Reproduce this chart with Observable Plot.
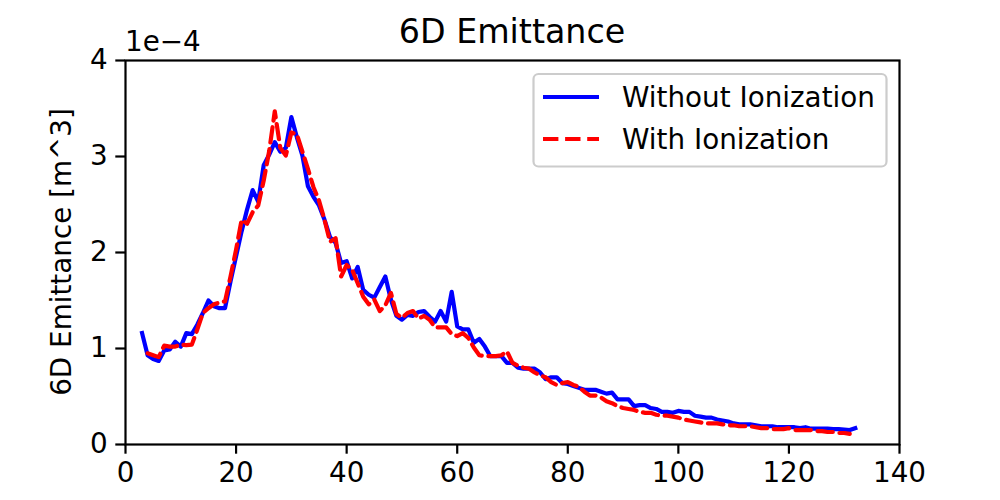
<!DOCTYPE html>
<html>
<head>
<meta charset="utf-8">
<script src="https://cdn.jsdelivr.net/npm/d3@7"></script>
<script src="https://cdn.jsdelivr.net/npm/@observablehq/plot@0.6"></script>
<style>
  html, body { margin: 0; padding: 0; background: #fff; }
  #chart { position: relative; width: 1000px; height: 500px; }
</style>
</head>
<body>
<div id="chart"></div>
<script>
// Data (emittance in units of 1e-4 m^3)
const stepsWithout = d3.range(3, 133);
const withoutIonization = [
  1.16,0.93,0.89,0.87,0.98,0.99,1.07,1.02,1.16,1.15,
  1.25,1.37,1.50,1.44,1.42,1.42,1.70,1.96,2.22,2.45,
  2.65,2.53,2.91,3.02,3.15,3.05,3.09,3.41,3.20,3.01,
  2.69,2.58,2.49,2.34,2.16,2.10,1.89,1.91,1.73,1.85,
  1.61,1.56,1.53,1.64,1.75,1.51,1.34,1.30,1.35,1.34,
  1.38,1.39,1.33,1.28,1.39,1.28,1.59,1.23,1.20,1.20,
  1.06,1.10,1.02,0.92,0.92,0.92,0.85,0.85,0.80,0.79,
  0.79,0.79,0.75,0.68,0.70,0.70,0.64,0.63,0.61,0.59,
  0.57,0.57,0.57,0.55,0.53,0.54,0.47,0.47,0.47,0.40,
  0.41,0.41,0.38,0.37,0.34,0.34,0.33,0.35,0.34,0.34,
  0.30,0.29,0.28,0.28,0.26,0.25,0.24,0.22,0.21,0.21,
  0.21,0.20,0.19,0.19,0.19,0.18,0.18,0.18,0.18,0.17,
  0.18,0.165,0.165,0.165,0.165,0.16,0.16,0.155,0.15,0.17
];
const stepsWith = d3.range(4, 132);
const withIonization = [
  0.95,0.93,0.91,1.03,1.02,1.02,1.04,1.035,1.04,1.20,
  1.37,1.42,1.46,1.48,1.49,1.75,2.03,2.34,2.30,2.42,
  2.49,2.75,3.06,3.47,3.09,3.01,3.25,3.23,3.05,2.87,
  2.68,2.54,2.34,2.11,2.15,1.75,1.87,1.82,1.68,1.54,
  1.46,1.51,1.39,1.45,1.58,1.36,1.32,1.37,1.39,1.31,
  1.34,1.30,1.22,1.22,1.22,1.15,1.13,1.16,1.11,1.01,
  0.93,0.92,0.92,0.92,0.93,0.97,0.85,0.82,0.80,0.79,
  0.75,0.72,0.70,0.65,0.62,0.64,0.65,0.62,0.60,0.55,
  0.51,0.51,0.49,0.45,0.43,0.40,0.38,0.37,0.36,0.34,
  0.33,0.33,0.31,0.30,0.30,0.29,0.28,0.26,0.25,0.24,
  0.23,0.22,0.22,0.22,0.21,0.20,0.20,0.19,0.19,0.19,
  0.18,0.17,0.17,0.16,0.16,0.16,0.17,0.15,0.15,0.15,
  0.15,0.14,0.14,0.13,0.13,0.12,0.12,0.11
];
const xTicks = [0, 20, 40, 60, 80, 100, 120, 140];
const yTicks = [0, 1, 2, 3, 4];
const seriesNames = ["Without Ionization", "With Ionization"];
const title = "6D Emittance";
const yLabel = "6D Emittance [m^3]";
const offsetLabel = "1e\u22124";

const rowsWithout = stepsWithout.map((x, i) => ({x, y: withoutIonization[i]}));
const rowsWith = stepsWith.map((x, i) => ({x, y: withIonization[i]}));

const FONT = "DejaVu Sans";
const ML = 125, MR = 101, MT = 60, MB = 56;

const plot = Plot.plot({
  width: 1000,
  height: 500,
  marginLeft: ML,
  marginRight: MR,
  marginTop: MT,
  marginBottom: MB,
  style: {fontFamily: FONT, fontSize: "27.8px", color: "black", background: "white"},
  x: {domain: [0, 140], ticks: xTicks, label: null},
  y: {domain: [0, 4], ticks: yTicks, label: null},
  marks: [
    Plot.axisX({ticks: xTicks, tickSize: 9.7, tickPadding: 8, strokeWidth: 2.2, fontSize: 27.8, tickFormat: d => String(d), label: null}),
    Plot.axisY({ticks: yTicks, tickSize: 9.7, tickPadding: 8, strokeWidth: 2.2, fontSize: 27.8, tickFormat: d => String(d), label: null}),
    Plot.line(rowsWithout, {x: "x", y: "y", stroke: "#0000ff", strokeWidth: 4.2, strokeLinejoin: "round", strokeLinecap: "square"}),
    Plot.line(rowsWith, {x: "x", y: "y", stroke: "#ff0000", strokeWidth: 4.2, strokeDasharray: "15.4,6.7", strokeLinejoin: "round"}),
    Plot.frame({stroke: "black", strokeWidth: 2.2})
  ]
});
document.getElementById("chart").appendChild(plot);

const svg = d3.select(plot);
// Title
svg.append("text").attr("x", ML + (1000 - ML - MR) / 2).attr("y", 43)
  .attr("text-anchor", "middle").attr("font-family", FONT).attr("font-size", 33.3)
  .attr("fill", "black").text(title);
// Offset text
svg.append("text").attr("x", ML).attr("y", 51)
  .attr("text-anchor", "start").attr("font-family", FONT).attr("font-size", 27.8)
  .attr("fill", "black").text(offsetLabel);
// Y label
svg.append("text").attr("transform", `translate(71,${MT + (500 - MT - MB) / 2}) rotate(-90)`)
  .attr("text-anchor", "middle").attr("font-family", FONT).attr("font-size", 27.8)
  .attr("fill", "black").text(yLabel);

// Legend
const lg = svg.append("g");
lg.append("rect").attr("x", 533.5).attr("y", 74).attr("width", 353).attr("height", 92.5)
  .attr("rx", 5).attr("fill", "white").attr("fill-opacity", 0.8)
  .attr("stroke", "#cccccc").attr("stroke-width", 2.2);
const legendStyles = [
  {stroke: "#0000ff", dash: null, y: 97},
  {stroke: "#ff0000", dash: "15.4,6.7", y: 139}
];
seriesNames.forEach((name, i) => {
  const s = legendStyles[i];
  const ln = lg.append("line").attr("x1", 543).attr("x2", 599).attr("y1", s.y).attr("y2", s.y)
    .attr("stroke", s.stroke).attr("stroke-width", 4.2);
  if (s.dash) ln.attr("stroke-dasharray", s.dash);
  lg.append("text").attr("x", 622).attr("y", s.y + 10)
    .attr("text-anchor", "start")
    .attr("font-family", FONT).attr("font-size", 27.8).attr("fill", "black").text(name);
});
</script>
</body>
</html>
